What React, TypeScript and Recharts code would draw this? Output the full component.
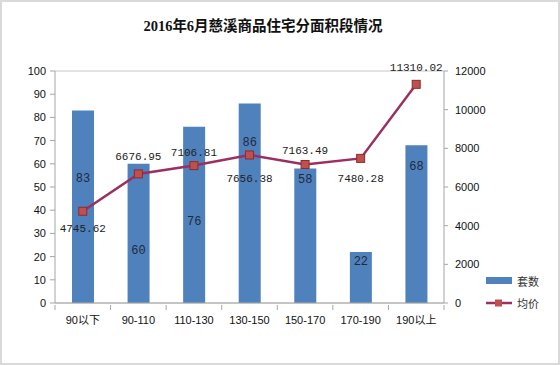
import React from 'react';
import { ComposedChart, Bar, Line, XAxis, YAxis, CartesianGrid, LabelList } from 'recharts';

const categories = ['90以下', '90-110', '110-130', '130-150', '150-170', '170-190', '190以上'];
const units = [83, 60, 76, 86, 58, 22, 68];
const avgPrice = [4745.62, 6676.95, 7106.81, 7656.38, 7163.49, 7480.28, 11310.02];
const leftTicks = [0, 10, 20, 30, 40, 50, 60, 70, 80, 90, 100];
const rightTicks = [0, 2000, 4000, 6000, 8000, 10000, 12000];

// label placement (layout only)
const barLabelDy = [69, 87, 95, 40, 12, 10, 22];
const lineLabelDy = [18, -17, -13, 24, -14, 21, -16];

const data = categories.map((c, i) => ({ name: c, units: units[i], price: avgPrice[i] }));

const BAR = '#4F81BD';
const LINE = '#9B2F62';
const MARK = '#C0504D';
const tickFont = { fontSize: 11, fill: '#111', stroke: 'none', fontFamily: 'Liberation Sans, "Noto Sans CJK SC", sans-serif' };
const labelFont = 'Liberation Mono, "DejaVu Sans Mono", monospace';

const XTick = (props: any) => {
  const { x, y, payload } = props;
  const half = payload && payload.offset ? payload.offset : 27.8;
  return (
    <g>
      <line x1={x - half} x2={x - half} y1={y - 6} y2={y - 1} stroke="#A6A6A6" />
      {payload.index === categories.length - 1 && (
        <line x1={x + half} x2={x + half} y1={y - 6} y2={y - 1} stroke="#A6A6A6" />
      )}
      <text x={x} y={y + 13} textAnchor="middle" {...tickFont}>{payload.value}</text>
    </g>
  );
};

const BarLabel = (props: any) => {
  const { x, y, width, value, index } = props;
  return (
    <text x={x + width / 2} y={y + barLabelDy[index]} textAnchor="middle" dominantBaseline="central"
      fontSize={12} fill="#1F2A3A" fontFamily={labelFont}>{value}</text>
  );
};

const LineLabel = (props: any) => {
  const { x, y, value, index } = props;
  return (
    <text x={x} y={y + lineLabelDy[index]} textAnchor="middle" dominantBaseline="central"
      fontSize={11} fill="#222" fontFamily={labelFont}>{Number(value).toFixed(2)}</text>
  );
};

const SquareDot = (props: any) => {
  const { cx, cy, index } = props;
  return <rect key={'d' + index} x={cx - 4} y={cy - 4} width={8} height={8} fill={MARK} stroke="#8E2B2B" strokeWidth={1} />;
};

export default function App() {
  return (
    <div style={{ position: 'absolute', left: 0, top: 0, width: 560, height: 365, background: '#fff' }}>
      <div style={{ position: 'absolute', left: -17, top: 14, width: 560, textAlign: 'center', fontSize: 14.5, fontWeight: 'bold',
        fontFamily: '"Liberation Serif", "Noto Sans CJK SC", serif', color: '#111' }}>
        2016年6月慈溪商品住宅分面积段情况
      </div>
      <ComposedChart width={560} height={365} data={data} margin={{ top: 71, right: 56, bottom: 32, left: 10 }}>
        <CartesianGrid vertical={false} stroke="#C8C8C8" />
        <XAxis dataKey="name" height={30} tickLine={false} axisLine={{ stroke: '#A6A6A6' }} tick={<XTick />} interval={0} />
        <YAxis yAxisId="left" width={45} domain={[0, 100]} ticks={leftTicks} tickSize={5} tickMargin={4}
          axisLine={{ stroke: '#A6A6A6' }} tickLine={{ stroke: '#A6A6A6' }} tick={tickFont} />
        <YAxis yAxisId="right" orientation="right" width={60} domain={[0, 12000]} ticks={rightTicks} tickSize={4} tickMargin={7}
          axisLine={{ stroke: '#A6A6A6' }} tickLine={{ stroke: '#A6A6A6' }} tick={{ ...tickFont, textAnchor: 'start' }} />
        <Bar yAxisId="left" dataKey="units" fill={BAR} barSize={22} isAnimationActive={false}>
          <LabelList dataKey="units" content={<BarLabel />} />
        </Bar>
        <Line yAxisId="right" dataKey="price" stroke={LINE} strokeWidth={2.5} dot={<SquareDot />} activeDot={false} isAnimationActive={false}>
          <LabelList dataKey="price" content={<LineLabel />} />
        </Line>
      </ComposedChart>
      <div style={{ position: 'absolute', left: 486, top: 274, fontSize: 11, fontFamily: '"Noto Sans CJK SC", sans-serif', color: '#333' }}>
        <div style={{ display: 'flex', alignItems: 'center', height: 14 }}>
          <svg width={28} height={8}><rect x={0} y={0} width={26} height={7} fill={BAR} /></svg>
          <span style={{ marginLeft: 3 }}>套数</span>
        </div>
        <div style={{ display: 'flex', alignItems: 'center', height: 14, marginTop: 8 }}>
          <svg width={28} height={8}><line x1={0} x2={26} y1={4} y2={4} stroke={LINE} strokeWidth={2.5} /><rect x={9} y={0.5} width={7} height={7} fill={MARK} /></svg>
          <span style={{ marginLeft: 3 }}>均价</span>
        </div>
      </div>
      <div style={{ position: 'absolute', left: 0, top: 0, width: 560, height: 365, boxSizing: 'border-box', border: '2px solid #D9D9D9', pointerEvents: 'none' }} />
    </div>
  );
}
